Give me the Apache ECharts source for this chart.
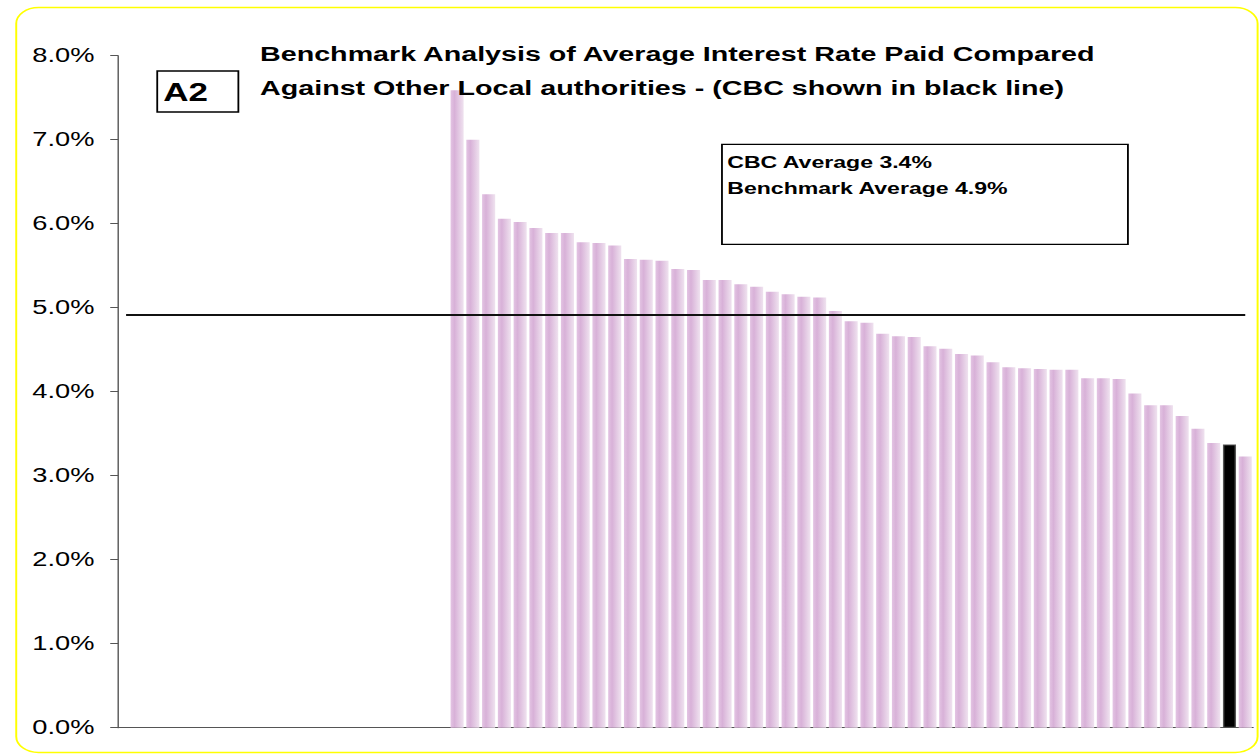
<!DOCTYPE html>
<html><head><meta charset="utf-8">
<script src="https://cdn.jsdelivr.net/npm/echarts@6/dist/echarts.min.js"></script>
<style>
html,body{margin:0;padding:0;background:#fff;overflow:hidden;width:1259px;height:755px}
#chart{width:900px;height:755px;transform:scaleX(1.398889);transform-origin:0 0;}
</style>
</head><body><div id="chart"></div>
<script>
// ---- data ----
const leadingBlankSlots = 21; // empty category slots before first authority
const rates = [7.59, 7.00, 6.35, 6.06, 6.02, 5.95, 5.89, 5.89, 5.78, 5.77,
               5.74, 5.58, 5.57, 5.56, 5.46, 5.45, 5.33, 5.33, 5.28, 5.25,
               5.19, 5.16, 5.13, 5.12, 4.96, 4.84, 4.82, 4.69, 4.66, 4.65,
               4.54, 4.51, 4.45, 4.43, 4.35, 4.29, 4.28, 4.27, 4.26, 4.26,
               4.16, 4.16, 4.15, 3.98, 3.84, 3.84, 3.71, 3.56, 3.39, 3.37,
               3.23];
const cbcIndex = 49;            // CBC bar (black)
const benchmarkAverage = 4.92;  // benchmark average line
const yTickValues = [0, 1, 2, 3, 4, 5, 6, 7, 8];
const titleLines = ['Benchmark Analysis of Average Interest Rate Paid Compared',
                    'Against Other Local authorities - (CBC shown in black line)'];
const boxLines = ['CBC Average 3.4%', 'Benchmark Average 4.9%'];
const tagText = 'A2';

// ---- build ----
const categories = [];
for (let i = 0; i < leadingBlankSlots; i++) categories.push('blank' + (i + 1));
for (let i = 0; i < rates.length; i++) categories.push('LA' + (i + 1));

const barGradient = new echarts.graphic.LinearGradient(0, 0, 1, 0, [
  {offset: 0, color: '#e3c4e3'},
  {offset: 0.3, color: '#d8b1d8'},
  {offset: 1, color: '#efe2ef'}
]);
const seriesData = [];
for (let i = 0; i < leadingBlankSlots; i++) seriesData.push(null);
rates.forEach((v, i) => {
  if (i === cbcIndex) seriesData.push({value: v, itemStyle: {color: '#000', borderColor: '#555', borderWidth: 1}});
  else seriesData.push(v);
});

const FONT = '"Liberation Sans", Arial, Helvetica, sans-serif';
const chart = echarts.init(document.getElementById('chart'), null, {renderer: 'svg'});
chart.setOption({
  animation: false,
  backgroundColor: '#fff',
  grid: {left: 84.5, right: 4.2, top: 55.7, bottom: 27.3, containLabel: false},
  xAxis: {
    type: 'category', data: categories,
    axisLine: {lineStyle: {color: '#555', width: 1}},
    axisTick: {show: false}, axisLabel: {show: false}, splitLine: {show: false}
  },
  yAxis: {
    type: 'value', min: yTickValues[0], max: yTickValues[yTickValues.length - 1], interval: 1,
    axisLine: {show: true, lineStyle: {color: '#555', width: 1}},
    axisTick: {show: true, length: 5.7, lineStyle: {color: '#555'}},
    splitLine: {show: false},
    axisLabel: {margin: 17, fontSize: 19.5, color: '#000', fontFamily: FONT,
                formatter: v => v.toFixed(1) + '%'}
  },
  series: [{
    type: 'bar', data: seriesData, barCategoryGap: '17%',
    itemStyle: {color: barGradient},
    markLine: {
      silent: true, symbol: 'none', label: {show: false},
      lineStyle: {color: '#111', width: 2, type: 'solid'},
      data: [[{coord: [categories[0], benchmarkAverage]},
              {coord: [categories[categories.length - 1], benchmarkAverage]}]]
    }
  }],
  graphic: [
    {type: 'rect', z: 100, shape: {x: 11.6, y: 7.5, width: 887.4, height: 745, r: 16},
     style: {fill: 'none', stroke: '#ffff00', lineWidth: 1.4}},
    {type: 'rect', z: 100, shape: {x: 112.4, y: 71, width: 58, height: 41},
     style: {fill: '#fff', stroke: '#000', lineWidth: 1.3}},
    {type: 'text', z: 101, x: 116.7, y: 92,
     style: {text: tagText, font: 'bold 25px ' + FONT, fill: '#000', verticalAlign: 'middle'}},
    {type: 'text', z: 101, x: 185.9, y: 54,
     style: {text: titleLines[0], font: 'bold 20.5px ' + FONT, fill: '#000', verticalAlign: 'middle'}},
    {type: 'text', z: 101, x: 185.9, y: 88,
     style: {text: titleLines[1], font: 'bold 20.5px ' + FONT, fill: '#000', verticalAlign: 'middle'}},
    {type: 'rect', z: 100, shape: {x: 516.1, y: 144.3, width: 290.2, height: 100},
     style: {fill: '#fff', stroke: '#000', lineWidth: 1.3}},
    {type: 'text', z: 101, x: 519.9, y: 162.5,
     style: {text: boxLines[0], font: 'bold 16.5px ' + FONT, fill: '#000', verticalAlign: 'middle'}},
    {type: 'text', z: 101, x: 519.9, y: 188,
     style: {text: boxLines[1], font: 'bold 16.5px ' + FONT, fill: '#000', verticalAlign: 'middle'}}
  ]
});
</script>
</body></html>
